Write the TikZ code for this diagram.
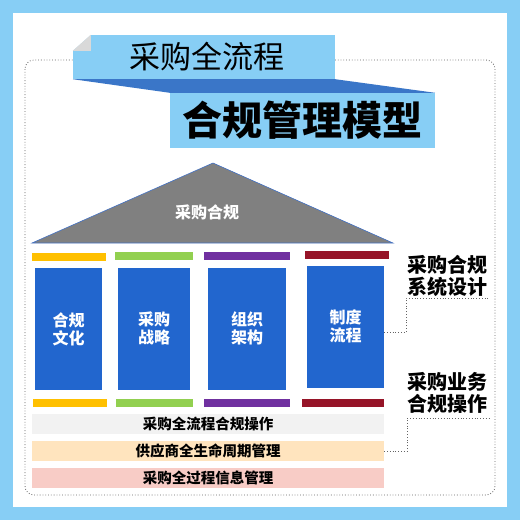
\documentclass[tikz,border=0pt]{standalone}
\usepackage{fontspec}
\setmainfont{Noto Sans CJK SC}
\usepackage{tikz}
\usetikzlibrary{positioning}
\definecolor{skyBlue}{RGB}{135,206,245}
\definecolor{bandBlue}{RGB}{58,118,200}
\definecolor{pillarBlue}{RGB}{34,102,206}
\definecolor{roofGray}{RGB}{128,128,128}
\definecolor{roofEdge}{RGB}{68,114,196}
\definecolor{foldGray}{RGB}{217,217,217}
\definecolor{barOrange}{RGB}{255,192,0}
\definecolor{barGreen}{RGB}{146,208,80}
\definecolor{barPurple}{RGB}{112,48,160}
\definecolor{barRed}{RGB}{150,20,40}
\definecolor{rowGray}{RGB}{242,242,242}
\definecolor{rowPeach}{RGB}{255,228,190}
\definecolor{rowPink}{RGB}{248,204,198}
\definecolor{dotGray}{RGB}{100,100,100}
\tikzstyle{ribbon} = [rectangle, fill=skyBlue, inner sep=0pt, text=black]
\tikzstyle{pillar} = [rectangle, fill=pillarBlue, minimum height=122pt, inner sep=0pt, text=white, align=center, font=\bfseries\fontsize{16}{18}\selectfont]
\tikzstyle{bar} = [rectangle, minimum height=8pt, inner sep=0pt]
\tikzstyle{strip} = [rectangle, minimum width=352pt, minimum height=20.5pt, inner sep=0pt, text=black, font=\bfseries\fontsize{14.5}{16}\selectfont]
\tikzstyle{sidelabel} = [align=center, text=black, font=\bfseries\fontsize{20}{22}\selectfont]
\tikzstyle{dotline} = [dotted, draw=dotGray, line width=0.8pt]
\begin{document}
\begin{tikzpicture}[x=1pt, y=-1pt]
	\useasboundingbox (0,0) rectangle (520,520);
	\fill[skyBlue] (0,0) rectangle (520,520);
	\fill[white] (13,13) rectangle (507,507);
	\draw[dotline, rounded corners=9pt] (25,60) rectangle (495,495);

	\node (titleTop) [ribbon, minimum width=262pt, minimum height=44pt, font=\fontsize{31}{34}\selectfont] at (204,57) {\hspace{6pt}采购全流程};
	\node (titleMain) [ribbon, minimum width=265pt, minimum height=55pt, font=\bfseries\fontsize{40}{44}\selectfont] at (302.5,120.5) {合规管理模型};
	\fill[bandBlue] (titleTop.south west) -- (titleTop.south east) -- (titleMain.north east) -- (titleMain.north west) -- cycle;
	\fill[white] (titleTop.north west) -- ++(18,0) -- ++(-18,16) -- cycle;
	\fill[foldGray] ([yshift=-16pt]titleTop.north west) -- ++(18,-16) -- ++(0,16) -- cycle;

	\draw[roofEdge, fill=roofGray, line width=0.6pt] (32,243) -- (213,163) -- (393,243) -- cycle;
	\node (roofLabel) [text=white, font=\bfseries\fontsize{16}{18}\selectfont] at (207,212) {采购合规};

	\node (pillarCulture) [pillar, minimum width=67pt] at (68.5,329) {合规\\文化};
	\node (pillarStrategy) [pillar, minimum width=72pt] at (154,328.5) {采购\\战略};
	\node (pillarOrg) [pillar, minimum width=78pt] at (247,328.5) {组织\\架构};
	\node (pillarRules) [pillar, minimum width=77pt] at (345.5,326.5) {制度\\流程};

	\node (capCulture) [bar, fill=barOrange, minimum width=74pt, above=7pt of pillarCulture] {};
	\node (capStrategy) [bar, fill=barGreen, minimum width=78pt, above=7pt of pillarStrategy] {};
	\node (capOrg) [bar, fill=barPurple, minimum width=86pt, above=7pt of pillarOrg] {};
	\node (capRules) [bar, fill=barRed, minimum width=84pt, above=6pt of pillarRules, xshift=1.5pt] {};

	\node (baseCulture) [bar, fill=barOrange, minimum width=74pt, below=9pt of pillarCulture, xshift=1.5pt] {};
	\node (baseStrategy) [bar, fill=barGreen, minimum width=77pt, below=9pt of pillarStrategy] {};
	\node (baseOrg) [bar, fill=barPurple, minimum width=86pt, below=9pt of pillarOrg] {};
	\node (baseRules) [bar, fill=barRed, minimum width=82pt, below=11pt of pillarRules, xshift=-2.5pt] {};

	\node (rowOps) [strip, fill=rowGray] at (208,424) {采购全流程合规操作};
	\node (rowSupplier) [strip, fill=rowPeach, below=6pt of rowOps] {供应商全生命周期管理};
	\node (rowInfo) [strip, fill=rowPink, below=6pt of rowSupplier] {采购全过程信息管理};

	\node (labelSystem) [sidelabel] at (447,276) {采购合规\\系统设计};
	\node (labelOps) [sidelabel] at (447,393) {采购业务\\合规操作};

	\coordinate (systemEnd) at (490,298);
	\coordinate (opsEnd) at (490,418);
	\draw[dotline] ([yshift=-5.5pt]pillarRules.east) -- ++(22,0) |- (systemEnd);
	\draw[dotline] (rowSupplier.east) -- ++(23,0) |- (opsEnd);
\end{tikzpicture}
\end{document}
